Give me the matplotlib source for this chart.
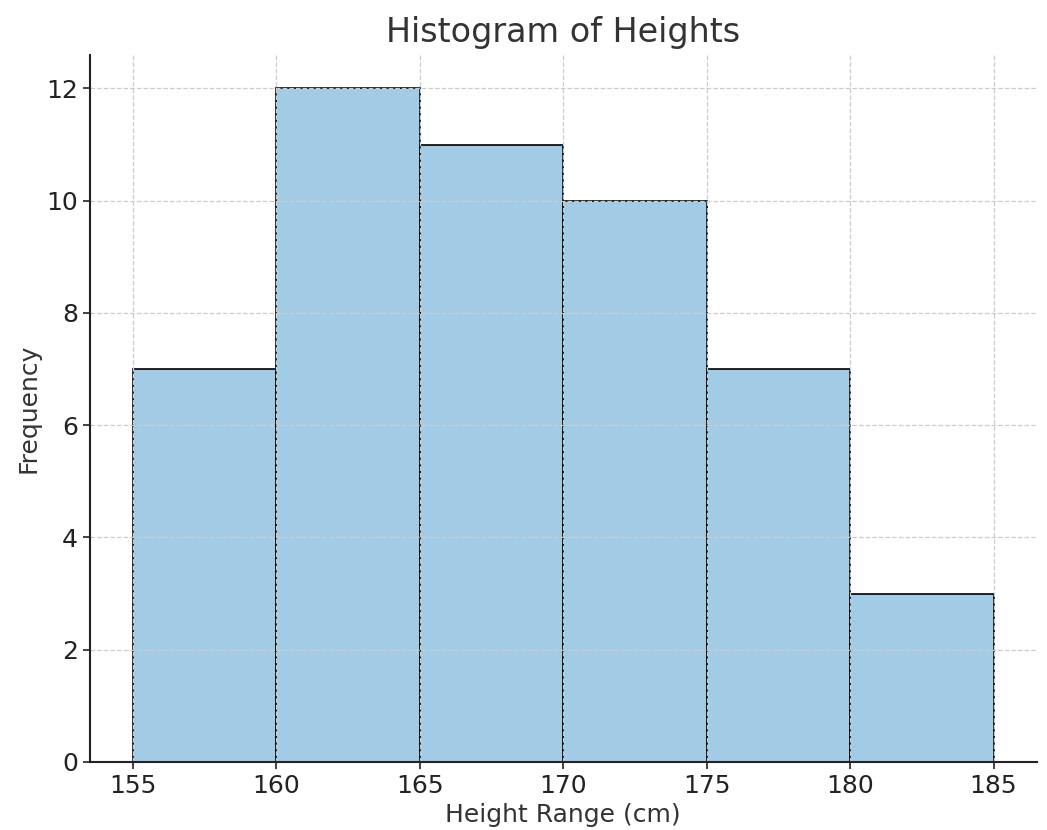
import matplotlib
matplotlib.use("Agg")
import matplotlib.pyplot as plt

# Histogram bins and counts
bin_edges = [155, 160, 165, 170, 175, 180, 185]
counts = [7, 12, 11, 10, 7, 3]
bin_starts = bin_edges[:-1]

plt.rcParams["text.color"] = "#333333"
plt.rcParams["axes.labelcolor"] = "#333333"
plt.rcParams["xtick.color"] = "#222222"
plt.rcParams["ytick.color"] = "#222222"

fig = plt.figure(figsize=(10.47, 8.3), dpi=100)
ax = fig.add_axes([0.086, 0.082, 0.904, 0.852])

ax.hist(bin_starts, bins=bin_edges, weights=counts,
        color="#a2cce6", edgecolor="black", linewidth=1.2)

ax.set_title("Histogram of Heights", fontsize=24, pad=9)
ax.set_xlabel("Height Range (cm)", fontsize=18)
ax.set_ylabel("Frequency", fontsize=18)
ax.set_xticks(bin_edges)
ax.tick_params(labelsize=18, width=1.2, length=5)

ax.grid(True, linestyle="--", color="#cccccc", linewidth=0.9)
for side in ["top", "right"]:
    ax.spines[side].set_visible(False)
for side in ["left", "bottom"]:
    ax.spines[side].set_linewidth(1.5)
    ax.spines[side].set_color("#222222")

fig.savefig("out.png", dpi=100)
